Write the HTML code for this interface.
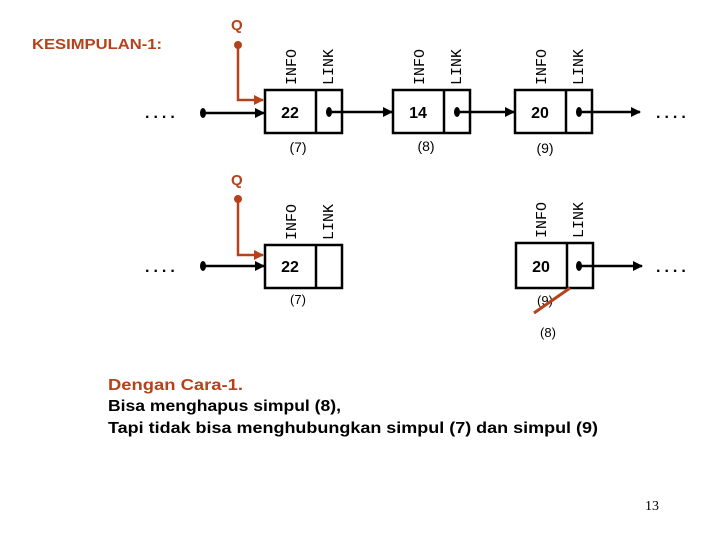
<!DOCTYPE html>
<html><head><style>body{margin:0;background:#fff}svg{display:block}</style></head><body>
<svg width="720" height="540" viewBox="0 0 720 540" xmlns="http://www.w3.org/2000/svg" font-family="Liberation Sans, sans-serif">
<defs>
<marker id="ab" markerWidth="10" markerHeight="10" refX="9" refY="5" orient="auto" markerUnits="userSpaceOnUse"><path d="M0,0 L10,5 L0,10 z" fill="#000"/></marker>
<marker id="ar" markerWidth="10" markerHeight="10" refX="9" refY="5" orient="auto" markerUnits="userSpaceOnUse"><path d="M0,0 L10,5 L0,10 z" fill="#b5421a"/></marker>
</defs>
<text x="32" y="49" font-size="15" font-weight="bold" fill="#b5421a" textLength="130" lengthAdjust="spacingAndGlyphs">KESIMPULAN-1:</text>

<!-- Row 1 -->
<text x="231" y="30" font-size="15" font-weight="bold" fill="#b5421a">Q</text>
<circle cx="238" cy="45" r="4" fill="#b5421a"/>
<polyline points="238,45 238,100 263,100" fill="none" stroke="#b5421a" stroke-width="2.5" marker-end="url(#ar)"/>
<text x="145" y="118" font-size="16" font-weight="bold" letter-spacing="4">....</text>
<ellipse cx="203" cy="113" rx="3" ry="5"/>
<line x1="203" y1="113" x2="264" y2="113" stroke="#000" stroke-width="2.5" marker-end="url(#ab)"/>
<g fill="none" stroke="#000" stroke-width="2.5">
<rect x="265" y="90" width="77" height="43"/><line x1="316" y1="90" x2="316" y2="133"/>
<rect x="393" y="90" width="77" height="43"/><line x1="444" y1="90" x2="444" y2="133"/>
<rect x="515" y="90" width="77" height="43"/><line x1="566" y1="90" x2="566" y2="133"/>
</g>
<ellipse cx="329" cy="112" rx="3" ry="5"/><line x1="329" y1="112" x2="392" y2="112" stroke="#000" stroke-width="2.5" marker-end="url(#ab)"/>
<ellipse cx="457" cy="112" rx="3" ry="5"/><line x1="457" y1="112" x2="514" y2="112" stroke="#000" stroke-width="2.5" marker-end="url(#ab)"/>
<ellipse cx="579" cy="112" rx="3" ry="5"/><line x1="579" y1="112" x2="640" y2="112" stroke="#000" stroke-width="2.5" marker-end="url(#ab)"/>
<text x="656" y="118" font-size="16" font-weight="bold" letter-spacing="4">....</text>
<g font-size="16" font-weight="bold" text-anchor="middle">
<text x="290" y="118">22</text><text x="418" y="118">14</text><text x="540" y="118">20</text>
</g>
<g font-size="14" text-anchor="middle">
<text x="298" y="152">(7)</text><text x="426" y="151">(8)</text><text x="545" y="153">(9)</text>
</g>
<g font-family="Liberation Mono, monospace" font-size="15">
<text transform="translate(296,85) rotate(-90)">INFO</text>
<text transform="translate(333,85) rotate(-90)">LINK</text>
<text transform="translate(424,85) rotate(-90)">INFO</text>
<text transform="translate(461,85) rotate(-90)">LINK</text>
<text transform="translate(546,85) rotate(-90)">INFO</text>
<text transform="translate(583,85) rotate(-90)">LINK</text>
</g>

<!-- Row 2 -->
<text x="231" y="185" font-size="15" font-weight="bold" fill="#b5421a">Q</text>
<circle cx="238" cy="199" r="4" fill="#b5421a"/>
<polyline points="238,199 238,255 263,255" fill="none" stroke="#b5421a" stroke-width="2.5" marker-end="url(#ar)"/>
<text x="145" y="272" font-size="16" font-weight="bold" letter-spacing="4">....</text>
<ellipse cx="203" cy="266" rx="3" ry="5"/>
<line x1="203" y1="266" x2="264" y2="266" stroke="#000" stroke-width="2.5" marker-end="url(#ab)"/>
<g fill="none" stroke="#000" stroke-width="2.5">
<rect x="265" y="245" width="77" height="43"/><line x1="316" y1="245" x2="316" y2="288"/>
<rect x="516" y="243" width="77" height="45"/><line x1="567" y1="243" x2="567" y2="288"/>
</g>
<ellipse cx="579" cy="266" rx="3" ry="5"/><line x1="579" y1="266" x2="642" y2="266" stroke="#000" stroke-width="2.5" marker-end="url(#ab)"/>
<text x="656" y="272" font-size="16" font-weight="bold" letter-spacing="4">....</text>
<g font-size="16" font-weight="bold" text-anchor="middle">
<text x="290" y="272">22</text><text x="541" y="272">20</text>
</g>
<g font-size="13" text-anchor="middle">
<text x="298" y="304">(7)</text><text x="545" y="305">(9)</text><text x="548" y="337">(8)</text>
</g>
<line x1="570" y1="288" x2="534" y2="313" stroke="#b5421a" stroke-width="3"/>
<g font-family="Liberation Mono, monospace" font-size="15">
<text transform="translate(296,240) rotate(-90)">INFO</text>
<text transform="translate(333,240) rotate(-90)">LINK</text>
<text transform="translate(546,238) rotate(-90)">INFO</text>
<text transform="translate(583,238) rotate(-90)">LINK</text>
</g>

<g font-size="16" font-weight="bold">
<text x="108" y="390" fill="#b5421a" textLength="135" lengthAdjust="spacingAndGlyphs">Dengan Cara-1.</text>
<text x="108" y="411" textLength="233" lengthAdjust="spacingAndGlyphs">Bisa menghapus simpul (8),</text>
<text x="108" y="433" textLength="490" lengthAdjust="spacingAndGlyphs">Tapi tidak bisa menghubungkan simpul (7) dan simpul (9)</text>
</g>
<text x="645" y="510" font-family="Liberation Serif, serif" font-size="14">13</text>
</svg>
</body></html>
